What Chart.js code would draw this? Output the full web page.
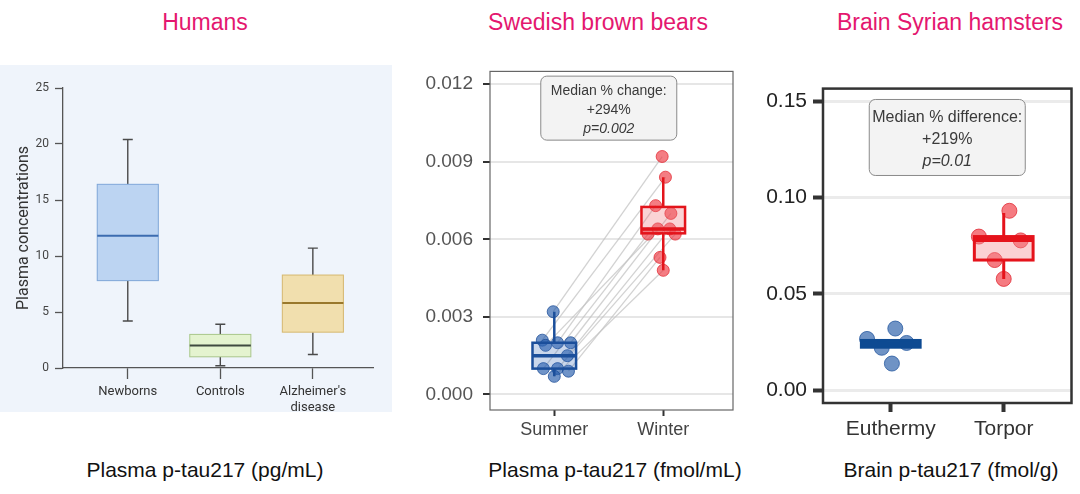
<!DOCTYPE html>
<html><head><meta charset="utf-8">
<script src="https://cdn.jsdelivr.net/npm/chart.js@4.4.0/dist/chart.umd.min.js"></script>
<style>
body{margin:0;width:1080px;height:494px;background:#fff;position:relative;overflow:hidden;font-family:"Liberation Sans",Arial,sans-serif;}
.t{position:absolute;text-align:center;white-space:nowrap;width:340px;}
.title{color:#e4176f;font-size:23px;line-height:26px;top:9px;}
.foot{color:#111;font-size:21px;line-height:24px;top:458px;}
canvas{position:absolute;}
</style></head><body>
<div class="t title" style="left:35px">Humans</div>
<div class="t title" style="left:428px">Swedish brown bears</div>
<div class="t title" style="left:780px">Brain Syrian hamsters</div>
<div class="t foot" style="left:35px">Plasma p-tau217 (pg/mL)</div>
<div class="t foot" style="left:445px">Plasma p-tau217 (fmol/mL)</div>
<div class="t foot" style="left:781px">Brain p-tau217 (fmol/g)</div>

<canvas id="c1" style="left:0;top:65px;background:#eff4fb"></canvas>
<canvas id="c2" style="left:410px;top:50px"></canvas>
<canvas id="c3" style="left:750px;top:70px"></canvas>

<script>
// ---------- data ----------
const humanCategories = ["Newborns", "Controls", ["Alzheimer's", "disease"]];
const humanTicks = [0, 5, 10, 15, 20, 25];
const humanMin    = [4.2, 0.2, 1.2];
const humanQ1     = [7.8, 1.0, 3.2];
const humanMedian = [11.8, 2.0, 5.8];
const humanQ3     = [16.4, 3.0, 8.3];
const humanMax    = [20.4, 3.9, 10.7];

const bearCategories = ["Summer", "Winter"];
const bearTicks = [0, 0.003, 0.006, 0.009, 0.012];
const bearSummer = [0.0032, 0.0021, 0.0020, 0.0020, 0.0019, 0.0015, 0.0010, 0.0010, 0.0009, 0.0007];
const bearWinter = [0.0092, 0.0084, 0.0073, 0.0070, 0.0064, 0.0064, 0.0062, 0.0062, 0.0053, 0.0048];
const bearSummerJitter = [-0.01, -0.11, 0.03, 0.15, -0.08, 0.12, -0.10, 0.03, 0.13, 0.0];
const bearWinterJitter = [-0.01, 0.02, -0.07, 0.07, -0.05, 0.06, -0.14, 0.11, -0.03, 0.0];
const bearMin    = [0.0007, 0.0048];
const bearQ1     = [0.0010, 0.00623];
const bearMedian = [0.0015, 0.0064];
const bearQ3     = [0.0020, 0.00725];
const bearMax    = [0.0032, 0.0084];
const bearNote = ["Median % change:", "+294%", "p=0.002"];
const bearNoteAt = {x: 1.5, y: 0.01107};

const hamsterCategories = ["Euthermy", "Torpor"];
const hamsterTicks = [0, 0.05, 0.10, 0.15];
const hamsterEuthermy = [0.0266, 0.0220, 0.0320, 0.0245, 0.0138];
const hamsterTorpor   = [0.0932, 0.0798, 0.0778, 0.0676, 0.0578];
const hamsterEuthermyJitter = [-0.21, -0.08, 0.04, 0.14, 0.01];
const hamsterTorporJitter   = [0.05, -0.22, 0.15, -0.08, 0.0];
const hamsterMin    = [0.0223, 0.0578];
const hamsterQ1     = [0.0223, 0.0676];
const hamsterMedian = [0.0240, 0.0783];
const hamsterQ3     = [0.0258, 0.0798];
const hamsterMax    = [0.0258, 0.0921];
const hamsterNote = ["Median % difference:", "+219%", "p=0.01"];
const hamsterNoteAt = {x: 1.5, y: 0.1313};

// ---------- helpers ----------
Chart.defaults.font.family = "'Liberation Sans', Arial, sans-serif";
Chart.defaults.animation = false;

function boxPlugin(id, boxes, o) {
  const draw = chart => {
    const {ctx, scales: {x, y}} = chart;
    boxes.forEach(b => {
      const cx = x.getPixelForValue(b.pos);
      const l = x.getPixelForValue(b.pos - o.width / 2);
      const r = x.getPixelForValue(b.pos + o.width / 2);
      const yMin = y.getPixelForValue(b.min), yQ1 = y.getPixelForValue(b.q1),
            yMed = y.getPixelForValue(b.med), yQ3 = y.getPixelForValue(b.q3),
            yMax = y.getPixelForValue(b.max);
      ctx.save();
      ctx.strokeStyle = b.whisker; ctx.lineWidth = o.whiskerWidth;
      ctx.beginPath();
      ctx.moveTo(cx, yMax); ctx.lineTo(cx, yQ3);
      ctx.moveTo(cx, yQ1); ctx.lineTo(cx, yMin);
      if (o.cap) {
        ctx.moveTo(cx - o.cap, yMax); ctx.lineTo(cx + o.cap, yMax);
        ctx.moveTo(cx - o.cap, yMin); ctx.lineTo(cx + o.cap, yMin);
      }
      ctx.stroke();
      ctx.fillStyle = b.fill;
      ctx.fillRect(l, yQ3, r - l, yQ1 - yQ3);
      ctx.strokeStyle = b.border; ctx.lineWidth = o.borderWidth;
      ctx.strokeRect(l, yQ3, r - l, yQ1 - yQ3);
      ctx.strokeStyle = b.median; ctx.lineWidth = o.medianWidth;
      ctx.beginPath(); ctx.moveTo(l, yMed); ctx.lineTo(r, yMed); ctx.stroke();
      ctx.restore();
    });
  };
  return o.onTop ? {id, afterDatasetsDraw: draw} : {id, beforeDatasetsDraw: draw};
}

function framePlugin(color, width) {
  return {
    id: 'frame',
    afterDatasetsDraw(chart) {
      const {ctx, chartArea: a} = chart;
      ctx.save();
      ctx.strokeStyle = color; ctx.lineWidth = width;
      ctx.strokeRect(a.left, a.top, a.right - a.left, a.bottom - a.top);
      ctx.restore();
    }
  };
}

function notePlugin(lines, at, o) {
  return {
    id: 'note',
    afterDatasetsDraw(chart) {
      const {ctx, scales: {x, y}} = chart;
      const cx = x.getPixelForValue(at.x), cy = y.getPixelForValue(at.y);
      ctx.save();
      ctx.beginPath();
      ctx.roundRect(cx - o.hw, cy - o.hh, o.hw * 2, o.hh * 2, 6);
      ctx.fillStyle = '#f3f3f3'; ctx.fill();
      ctx.strokeStyle = '#8a8a8a'; ctx.lineWidth = 1; ctx.stroke();
      ctx.fillStyle = '#3a3a3a'; ctx.textAlign = 'center'; ctx.textBaseline = 'middle';
      lines.forEach((t, i) => {
        ctx.font = (i === 2 ? 'italic ' : '') + o.size + "px 'Liberation Sans', Arial, sans-serif";
        ctx.fillText(t, cx, cy + o.offsets[i]);
      });
      ctx.restore();
    }
  };
}

function setSize(id, w, h) {
  const c = document.getElementById(id);
  c.width = w; c.height = h; c.style.width = w + 'px'; c.style.height = h + 'px';
  return c;
}
const fixedTicks = arr => s => { s.ticks = arr.map(v => ({value: v})); };

// ---------- panel 1: humans ----------
const humanFills = ['#bcd4f2', '#e4f3cf', '#f1dfae'];
const humanBorders = ['#7fa6d8', '#a9c78a', '#d6b86f'];
const humanMedians = ['#3c6cb0', '#3f4a40', '#99782c'];
const humanBoxes = humanMedian.map((m, i) => ({
  pos: i + 1, min: humanMin[i], q1: humanQ1[i], med: m, q3: humanQ3[i], max: humanMax[i],
  fill: humanFills[i], border: humanBorders[i], median: humanMedians[i], whisker: '#4a4a4a'
}));
new Chart(setSize('c1', 392, 347), {
  type: 'scatter',
  data: {datasets: [{data: []}]},
  options: {
    responsive: false,
    layout: {padding: {top: 23, right: 19, left: 0, bottom: 0}},
    plugins: {legend: {display: false}, tooltip: {enabled: false}},
    scales: {
      x: {
        type: 'linear', min: 0.3, max: 3.65,
        afterBuildTicks: fixedTicks([1, 2, 3]),
        afterFit: s => { s.height = 44; },
        grid: {drawOnChartArea: false, drawTicks: true, tickLength: 11, tickColor: '#555', tickWidth: 1.3},
        border: {display: true, color: '#555', width: 1.3},
        ticks: {callback: v => humanCategories[v - 1], autoSkip: false, maxRotation: 0, padding: 5,
                color: '#333', font: {family: 'Roboto', size: 13}}
      },
      y: {
        type: 'linear', min: 0, max: 25,
        afterBuildTicks: fixedTicks(humanTicks),
        afterFit: s => { s.width = 63; },
        grid: {drawOnChartArea: false, drawTicks: true, tickLength: 8, tickColor: '#555', tickWidth: 1.3},
        border: {display: true, color: '#555', width: 1.3},
        ticks: {padding: 6, color: '#444', font: {family: 'Roboto', size: 12}},
        title: {display: true, text: 'Plasma concentrations', color: '#333',
                font: {family: 'Roboto', size: 16}, padding: {top: 14, bottom: 0}}
      }
    }
  },
  plugins: [boxPlugin('boxes1', humanBoxes, {width: 0.66, whiskerWidth: 1.4, borderWidth: 1, medianWidth: 2, cap: 5})]
});

// ---------- panel 2: bears ----------
const bearBorders = ['#1b4f9b', '#e3141b'];
const bearFills = ['rgba(60,110,185,0.28)', 'rgba(240,110,115,0.3)'];
const bearBoxes = bearMedian.map((m, i) => ({
  pos: i + 1, min: bearMin[i], q1: bearQ1[i], med: m, q3: bearQ3[i], max: bearMax[i],
  fill: bearFills[i], border: bearBorders[i], median: bearBorders[i], whisker: bearBorders[i]
}));
const bearLineSets = bearSummer.map((s, i) => ({
  type: 'line', order: 2,
  data: [{x: 1 + bearSummerJitter[i], y: s}, {x: 2 + bearWinterJitter[i], y: bearWinter[i]}],
  borderColor: 'rgba(195,195,195,0.75)', borderWidth: 1.3, pointRadius: 0, showLine: true
}));
new Chart(setSize('c2', 330, 400), {
  type: 'scatter',
  data: {datasets: [
    {order: 0, data: bearSummer.map((v, i) => ({x: 1 + bearSummerJitter[i], y: v})),
     backgroundColor: 'rgba(35,90,170,0.65)', borderColor: 'rgba(25,75,150,0.75)', borderWidth: 1, pointRadius: 6},
    {order: 0, data: bearWinter.map((v, i) => ({x: 2 + bearWinterJitter[i], y: v})),
     backgroundColor: 'rgba(238,55,65,0.65)', borderColor: 'rgba(225,40,50,0.75)', borderWidth: 1, pointRadius: 6},
    ...bearLineSets
  ]},
  options: {
    responsive: false,
    layout: {padding: {top: 13, right: 7, left: 0, bottom: 0}},
    plugins: {legend: {display: false}, tooltip: {enabled: false}},
    scales: {
      x: {
        type: 'linear', min: 0.41, max: 2.64,
        afterBuildTicks: fixedTicks([1, 2]),
        afterFit: s => { s.height = 40; },
        grid: {drawOnChartArea: false, drawTicks: true, tickLength: 6, tickColor: '#333', tickWidth: 2},
        border: {display: false},
        ticks: {callback: v => bearCategories[v - 1], autoSkip: false, maxRotation: 0, padding: 3,
                color: '#444', font: {size: 18}}
      },
      y: {
        type: 'linear', min: -0.0006, max: 0.01249,
        afterBuildTicks: fixedTicks(bearTicks),
        afterFit: s => { s.width = 80; },
        grid: {drawOnChartArea: true, color: '#e6e6e6', lineWidth: 2, drawTicks: true, tickLength: 7,
               tickColor: '#333', tickWidth: 2},
        border: {display: false},
        ticks: {padding: 10, color: '#555', font: {size: 19}, callback: v => v.toFixed(3)}
      }
    }
  },
  plugins: [boxPlugin('boxes2', bearBoxes, {width: 0.40, whiskerWidth: 2.5, borderWidth: 2.5, medianWidth: 3.5, cap: 0, onTop: true}),
            framePlugin('#666', 1.2),
            notePlugin(bearNote, bearNoteAt, {hw: 68, hh: 32, size: 14, offsets: [-17, 2, 21]})]
});

// ---------- panel 3: hamsters ----------
const hamBorders = ['#0d4a92', '#e5131b'];
const hamFills = ['rgba(60,110,185,0.35)', 'rgba(245,140,145,0.4)'];
const hamBoxes = hamsterMedian.map((m, i) => ({
  pos: i + 1, min: hamsterMin[i], q1: hamsterQ1[i], med: m, q3: hamsterQ3[i], max: hamsterMax[i],
  fill: hamFills[i], border: hamBorders[i], median: hamBorders[i], whisker: hamBorders[i]
}));
new Chart(setSize('c3', 330, 380), {
  type: 'scatter',
  data: {datasets: [
    {data: hamsterEuthermy.map((v, i) => ({x: 1 + hamsterEuthermyJitter[i], y: v})),
     backgroundColor: 'rgba(55,105,175,0.72)', borderColor: 'rgba(40,90,160,0.8)', borderWidth: 1, pointRadius: 7.5},
    {data: hamsterTorpor.map((v, i) => ({x: 2 + hamsterTorporJitter[i], y: v})),
     backgroundColor: 'rgba(240,60,70,0.68)', borderColor: 'rgba(225,45,55,0.8)', borderWidth: 1, pointRadius: 7.5}
  ]},
  options: {
    responsive: false,
    layout: {padding: {top: 14, right: 8, left: 0, bottom: 0}},
    plugins: {legend: {display: false}, tooltip: {enabled: false}},
    scales: {
      x: {
        type: 'linear', min: 0.4, max: 2.6,
        afterBuildTicks: fixedTicks([1, 2]),
        afterFit: s => { s.height = 47; },
        grid: {drawOnChartArea: false, drawTicks: true, tickLength: 9, tickColor: '#333', tickWidth: 4},
        border: {display: false},
        ticks: {callback: v => hamsterCategories[v - 1], autoSkip: false, maxRotation: 0, padding: 5,
                color: '#333', font: {size: 21}}
      },
      y: {
        type: 'linear', min: -0.0067, max: 0.1567,
        afterBuildTicks: fixedTicks(hamsterTicks),
        afterFit: s => { s.width = 73; },
        grid: {drawOnChartArea: true, color: '#ebebeb', lineWidth: 3, drawTicks: true, tickLength: 10,
               tickColor: '#333', tickWidth: 4},
        border: {display: false},
        ticks: {padding: 6, color: '#222', font: {size: 21}, callback: v => v.toFixed(2)}
      }
    }
  },
  plugins: [boxPlugin('boxes3', hamBoxes, {width: 0.52, whiskerWidth: 3, borderWidth: 3, medianWidth: 5, cap: 0, onTop: true}),
            framePlugin('#333', 2.5),
            notePlugin(hamsterNote, hamsterNoteAt, {hw: 78, hh: 38, size: 16, offsets: [-20, 2, 24]})]
});
</script>
</body></html>
